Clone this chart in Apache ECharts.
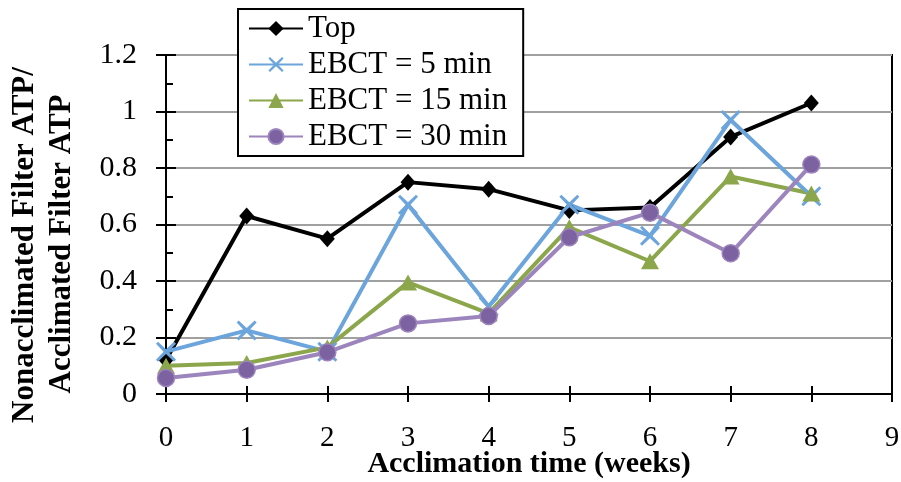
<!DOCTYPE html>
<html>
<head>
<meta charset="utf-8">
<script src="https://cdn.jsdelivr.net/npm/echarts@6/dist/echarts.min.js"></script>
<style>
  html, body { margin: 0; padding: 0; background: #fff; }
  #chart { width: 901px; height: 482px; }
</style>
</head>
<body>
<div id="chart"></div>
<script>
// Acclimation time in weeks
const weeks = [0, 1, 2, 3, 4, 5, 6, 7, 8];

// Ratio of nonacclimated to acclimated filter ATP
const topValues = [0.12, 0.63, 0.55, 0.75, 0.725, 0.65, 0.66, 0.91, 1.03];
const ebct5Values = [0.15, 0.225, 0.15, 0.67, 0.31, 0.67, 0.56, 0.97, 0.70];
const ebct15Values = [0.10, 0.11, 0.165, 0.395, 0.285, 0.59, 0.47, 0.77, 0.71];
const ebct30Values = [0.057, 0.086, 0.148, 0.25, 0.276, 0.555, 0.642, 0.498, 0.812];

const seriesNames = ['Top', 'EBCT = 5 min', 'EBCT = 15 min', 'EBCT = 30 min'];

// Axis ranges
const xRange = { min: 0, max: 9, step: 1 };
const yRange = { min: 0, max: 1.2, step: 0.2 };

const serif = '"Liberation Serif", "Times New Roman", serif';

const pairs = vals => weeks.map((w, i) => [w, vals[i]]);

// thin "x" marker drawn as a filled outline
const crossPath = 'path://M2,0L10,7.6L18,0L20,2L12.4,10L20,18L18,20L10,12.4L2,20L0,18L7.6,10L0,2Z';

const chart = echarts.init(document.getElementById('chart'), null, { renderer: 'canvas' });

const option = {
  backgroundColor: '#fff',
  animation: false,
  grid: {
    left: 166, right: 9, top: 55, bottom: 88,
    containLabel: false,
    outerBoundsMode: 'none',
    show: true, borderColor: '#000', borderWidth: 2, backgroundColor: 'transparent'
  },
  legend: {
    orient: 'vertical',
    left: 238, top: 9,
    backgroundColor: '#fff',
    borderColor: '#000', borderWidth: 2,
    padding: [4, 16, 4, 10],
    itemWidth: 54, itemHeight: 19, itemGap: 5,
    textStyle: { fontFamily: serif, fontSize: 31, color: '#000', lineHeight: 30 },
    data: seriesNames,
    z: 10
  },
  xAxis: [
    {
      type: 'value', min: xRange.min, max: xRange.max, interval: xRange.step,
      axisLine: { show: true, onZero: false, lineStyle: { color: '#000', width: 2 } },
      axisTick: { show: true, inside: false, length: 8, lineStyle: { color: '#000', width: 2 } },
      axisLabel: { fontFamily: serif, fontSize: 29, color: '#000', margin: 30 },
      splitLine: { show: false },
      name: 'Acclimation time (weeks)',
      nameLocation: 'middle', nameGap: 55,
      nameMoveOverlap: false,
      nameTextStyle: { fontFamily: serif, fontSize: 30, fontWeight: 'bold', color: '#000' }
    },
    {
      type: 'value', min: xRange.min, max: xRange.max, interval: xRange.step,
      position: 'bottom', offset: 0,
      axisLine: { show: false },
      axisTick: { show: true, inside: true, length: 8, lineStyle: { color: '#000', width: 2 } },
      axisLabel: { show: false },
      splitLine: { show: false }
    }
  ],
  yAxis: [
    {
      type: 'value', min: yRange.min, max: yRange.max, interval: yRange.step,
      axisLine: { show: true, onZero: false, lineStyle: { color: '#000', width: 2 } },
      axisTick: { show: true, inside: false, length: 10, lineStyle: { color: '#000', width: 2 } },
      axisLabel: { fontFamily: serif, fontSize: 30, color: '#000', margin: 29 },
      splitLine: { show: true, lineStyle: { color: '#a0a0a0', width: 2 } }
    },
    {
      type: 'value', min: yRange.min, max: yRange.max, interval: yRange.step,
      position: 'left', offset: 0,
      axisLine: { show: false },
      axisTick: { show: true, inside: true, length: 10, lineStyle: { color: '#000', width: 2 } },
      minorTick: { show: true, splitNumber: 2, length: 7, lineStyle: { color: '#000', width: 2 } },
      axisLabel: { show: false },
      splitLine: { show: false }
    }
  ],
  graphic: [
    {
      type: 'text', x: 25, y: 245, rotation: Math.PI / 2,
      style: {
        text: 'Nonacclimated Filter ATP/',
        fontFamily: serif, fontSize: 31, fontWeight: 'bold', fill: '#000',
        align: 'center', verticalAlign: 'middle'
      }
    },
    {
      type: 'text', x: 62, y: 244, rotation: Math.PI / 2,
      style: {
        text: 'Acclimated Filter ATP',
        fontFamily: serif, fontSize: 31, fontWeight: 'bold', fill: '#000',
        align: 'center', verticalAlign: 'middle'
      }
    }
  ],
  series: [
    {
      name: seriesNames[0], type: 'line', data: pairs(topValues),
      symbol: 'diamond', symbolSize: [15, 17],
      lineStyle: { color: '#000', width: 4 },
      itemStyle: { color: '#000' }
    },
    {
      name: seriesNames[1], type: 'line', data: pairs(ebct5Values),
      symbol: crossPath, symbolSize: 20,
      lineStyle: { color: '#6ca4dc', width: 4 },
      itemStyle: { color: '#6ca4dc' }
    },
    {
      name: seriesNames[2], type: 'line', data: pairs(ebct15Values),
      symbol: 'triangle', symbolSize: [18, 16],
      lineStyle: { color: '#8ba64b', width: 4 },
      itemStyle: { color: '#8ba64b' }
    },
    {
      name: seriesNames[3], type: 'line', data: pairs(ebct30Values),
      symbol: 'circle', symbolSize: 17,
      lineStyle: { color: '#9c84bc', width: 4 },
      itemStyle: { color: '#7c62a0', borderColor: '#9c84bc', borderWidth: 1.5 }
    }
  ]
};

chart.setOption(option);
</script>
</body>
</html>
